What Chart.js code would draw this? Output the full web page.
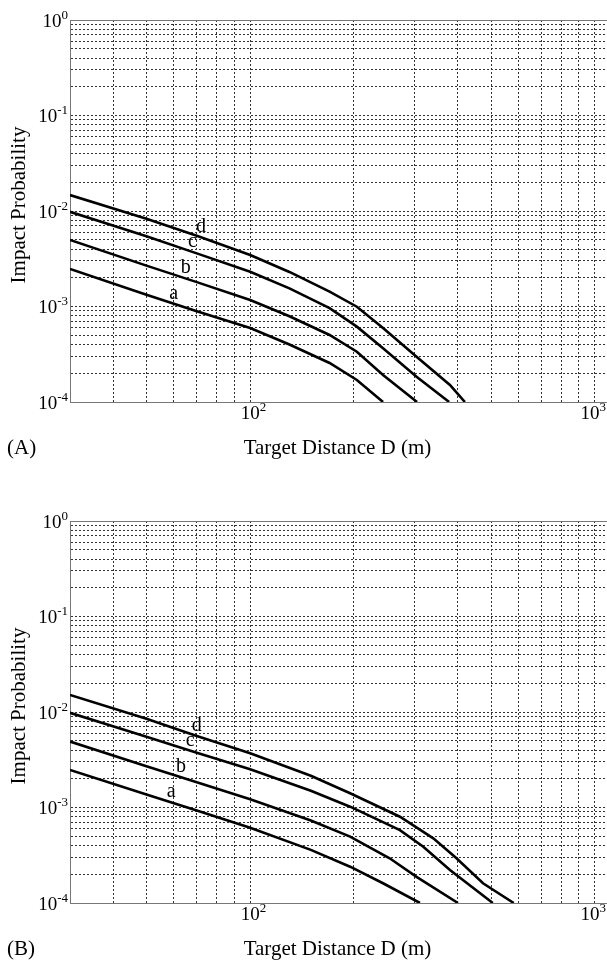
<!DOCTYPE html>
<html>
<head>
<meta charset="utf-8">
<script src="https://cdn.jsdelivr.net/npm/chart.js@4.4.0/dist/chart.umd.min.js"></script>
<style>
  html, body { margin: 0; padding: 0; background: #fff; overflow: hidden; width: 607px; height: 961px; }
  canvas { position: absolute; left: 0; }
  #chartA { top: 0; }
  #chartB { top: 501px; }
</style>
</head>
<body>
<canvas id="chartA" width="620" height="480"></canvas>
<canvas id="chartB" width="620" height="460"></canvas>
<script>
// panel (A): target distance (m) and impact probability
const distA_a = [30, 50, 70, 100, 130, 170, 204, 243];
const probA_a = [2.47e-3, 1.33e-3, 8.9e-4, 5.95e-4, 4.0e-4, 2.56e-4, 1.7e-4, 1.0e-4];
const distA_b = [30, 50, 70, 100, 130, 170, 204, 243, 305];
const probA_b = [4.97e-3, 2.68e-3, 1.8e-3, 1.17e-3, 7.9e-4, 5.03e-4, 3.36e-4, 1.92e-4, 1.0e-4];
const distA_c = [30, 50, 70, 100, 130, 170, 204, 243, 304, 378];
const probA_c = [9.8e-3, 5.45e-3, 3.6e-3, 2.31e-3, 1.55e-3, 9.6e-4, 6.15e-4, 3.65e-4, 1.84e-4, 1.0e-4];
const distA_d = [30, 50, 70, 100, 130, 170, 204, 243, 304, 380, 420];
const probA_d = [1.47e-2, 8.3e-3, 5.5e-3, 3.46e-3, 2.3e-3, 1.43e-3, 9.95e-4, 5.95e-4, 2.98e-4, 1.51e-4, 1.0e-4];

// panel (B)
const distB_a = [30, 50, 70, 100, 150, 195, 243, 311];
const probB_a = [2.47e-3, 1.37e-3, 9.3e-4, 6.14e-4, 3.6e-4, 2.4e-4, 1.61e-4, 1.0e-4];
const distB_b = [30, 50, 70, 100, 150, 195, 254, 304, 401];
const probB_b = [4.9e-3, 2.71e-3, 1.84e-3, 1.22e-3, 7.3e-4, 4.95e-4, 2.94e-4, 1.88e-4, 1.0e-4];
const distB_c = [30, 50, 70, 100, 150, 195, 272, 318, 380, 506];
const probB_c = [9.8e-3, 5.5e-3, 3.75e-3, 2.51e-3, 1.5e-3, 1.02e-3, 5.8e-4, 3.89e-4, 2.22e-4, 1.0e-4];
const distB_d = [30, 50, 70, 100, 150, 195, 272, 340, 397, 474, 582];
const probB_d = [1.51e-2, 8.5e-3, 5.6e-3, 3.7e-3, 2.15e-3, 1.41e-3, 8.0e-4, 4.75e-4, 2.94e-4, 1.61e-4, 1.0e-4];

const curveNames = ["a", "b", "c", "d"];
// distance at which each curve letter sits
const letterDistA = [60, 65, 68, 72];
const letterDistB = [59, 63, 67, 70];

// axis decades and the minor mantissas used for the grid
const xDecades = [10, 100, 1000];
const yDecades = [1e-4, 1e-3, 1e-2, 1e-1, 1];
const mantissas = [1, 2, 3, 4, 5, 6, 7, 8, 9];
const xLabelExps = [2, 3];
const yLabelExps = [-4, -3, -2, -1, 0];

const xTitle = "Target Distance D (m)";
const yTitle = "Impact Probability";

const SERIF = '"Liberation Serif", "Times New Roman", serif';

const gridValues = (decades, min, max) => {
    const out = [];
    decades.forEach(dec => mantissas.forEach(m => {
        const v = m * dec;
        if (v >= min * 0.999 && v <= max * 1.001) out.push(v);
    }));
    return out;
};

const logInterp = (xs, ys, x) => {
    for (let i = 0; i < xs.length - 1; i++) {
        if (x >= xs[i] && x <= xs[i + 1]) {
            const t = Math.log(x / xs[i]) / Math.log(xs[i + 1] / xs[i]);
            return Math.exp(Math.log(ys[i]) + t * Math.log(ys[i + 1] / ys[i]));
        }
    }
    return ys[ys.length - 1];
};

const drawPower = (ctx, exp, x, y, align) => {
    const expStr = exp < 0 ? "-" + (-exp) : String(exp);
    ctx.font = "19px " + SERIF;
    const baseW = ctx.measureText("10").width;
    ctx.font = "13px " + SERIF;
    const expW = ctx.measureText(expStr).width;
    let x0 = align === "right" ? x - baseW - expW : x - baseW / 2;
    // keep the label inside the page
    if (x0 + baseW + expW > 606) x0 = 606 - baseW - expW;
    ctx.textAlign = "left";
    ctx.textBaseline = "alphabetic";
    ctx.font = "19px " + SERIF;
    ctx.fillText("10", x0, y);
    ctx.font = "13px " + SERIF;
    ctx.fillText(expStr, x0 + baseW, y - 8);
};

const textPlugin = {
    id: "panelText",
    afterDraw(chart, args, opts) {
        const { ctx, chartArea, scales: { x, y } } = chart;
        ctx.save();
        // top frame line
        ctx.strokeStyle = "#777";
        ctx.lineWidth = 1;
        ctx.beginPath();
        ctx.moveTo(chartArea.left, chartArea.top + 0.5);
        ctx.lineTo(chartArea.right, chartArea.top + 0.5);
        ctx.stroke();

        ctx.fillStyle = "#000";
        yLabelExps.forEach(e => {
            drawPower(ctx, e, chartArea.left - 2, y.getPixelForValue(Math.pow(10, e)) + 6.5, "right");
        });
        xLabelExps.forEach(e => {
            drawPower(ctx, e, x.getPixelForValue(Math.pow(10, e)), chartArea.bottom + 17, "center");
        });

        ctx.font = "21px " + SERIF;
        ctx.textBaseline = "alphabetic";
        ctx.textAlign = "center";
        ctx.fillText(xTitle, 337.5, chartArea.bottom + 52);
        ctx.textAlign = "left";
        ctx.fillText(opts.panel, 7, chartArea.bottom + 52);

        ctx.save();
        ctx.translate(25, 205);
        ctx.rotate(-Math.PI / 2);
        ctx.textAlign = "center";
        ctx.fillText(yTitle, 0, 0);
        ctx.restore();

        // curve letters
        ctx.font = "20px " + SERIF;
        ctx.textAlign = "center";
        chart.data.datasets.forEach((ds, i) => {
            const d = opts.letterDist[i];
            const p = logInterp(opts.series[i][0], opts.series[i][1], d);
            ctx.fillText(curveNames[i], x.getPixelForValue(d), y.getPixelForValue(p) - 5);
        });
        ctx.restore();
    }
};

const makePanel = (canvas, series, letterDist, panel) => {
    const xGrid = gridValues(xDecades, 30, 1100);
    const yGrid = gridValues(yDecades, 1e-4, 1);
    return new Chart(canvas, {
        type: "line",
        data: {
            datasets: series.map(([dist, prob], i) => ({
                label: curveNames[i],
                data: dist.map((d, k) => ({ x: d, y: prob[k] })),
                borderColor: "#000",
                borderWidth: 2.6,
                pointRadius: 0,
                tension: 0,
                fill: false
            }))
        },
        options: {
            responsive: false,
            animation: false,
            events: [],
            layout: { padding: { left: 70, top: 20, right: 11, bottom: canvas.height - 402 } },
            plugins: {
                legend: { display: false },
                tooltip: { enabled: false },
                panelText: { panel, letterDist, series }
            },
            scales: {
                x: {
                    type: "logarithmic",
                    min: 30,
                    max: 1100,
                    afterBuildTicks: s => { s.ticks = xGrid.map(v => ({ value: v })); },
                    ticks: { display: false },
                    grid: { color: "#333", lineWidth: 1, drawTicks: false, tickLength: 0 },
                    border: { color: "#777", width: 1, dash: [2, 2] }
                },
                y: {
                    type: "logarithmic",
                    min: 1e-4,
                    max: 1,
                    afterBuildTicks: s => { s.ticks = yGrid.map(v => ({ value: v })); },
                    ticks: { display: false },
                    grid: { color: "#333", lineWidth: 1, drawTicks: false, tickLength: 0 },
                    border: { color: "#777", width: 1, dash: [2, 2] }
                }
            }
        },
        plugins: [textPlugin]
    });
};

makePanel(document.getElementById("chartA"), [
    [distA_a, probA_a], [distA_b, probA_b], [distA_c, probA_c], [distA_d, probA_d]
], letterDistA, "(A)");

makePanel(document.getElementById("chartB"), [
    [distB_a, probB_a], [distB_b, probB_b], [distB_c, probB_c], [distB_d, probB_d]
], letterDistB, "(B)");
</script>
</body>
</html>
